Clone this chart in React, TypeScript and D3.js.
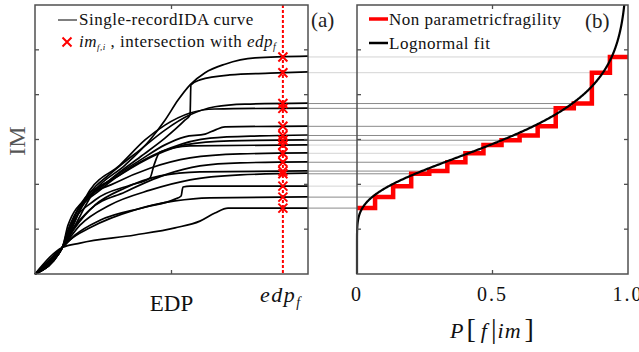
import React from 'react';
import * as d3 from 'd3';

// single-record IDA curves, [EDP, IM] (EDP scaled to the plotted range 0..1)
const idaCurves: [number, number][][] = [
  [[0, 0], [0.1, 0.59], [0.165, 0.69], [0.366, 0.87], [0.513, 1.03], [0.604, 1.18], [0.659, 1.36], [0.707, 1.47], [0.788, 1.47], [1, 1.47]],
  [[0, 0], [0.1, 0.59], [0.128, 0.76], [0.201, 1.03], [0.366, 1.43], [0.513, 1.63], [0.64, 1.7], [1, 1.72]],
  [[0, 0], [0.1, 0.59], [0.147, 0.87], [0.238, 1.2], [0.403, 1.49], [0.513, 1.67], [0.535, 1.74], [0.542, 1.94], [0.568, 1.96], [1, 1.96]],
  [[0, 0], [0.1, 0.59], [0.165, 1.09], [0.275, 1.54], [0.421, 1.87], [0.568, 2.1], [0.751, 2.21], [1, 2.25]],
  [[0, 0], [0.1, 0.59], [0.136, 0.98], [0.22, 1.54], [0.33, 1.92], [0.458, 2.19], [0.604, 2.28], [1, 2.3]],
  [[0, 0], [0.1, 0.59], [0.121, 0.8], [0.201, 1.43], [0.33, 1.83], [0.476, 2.21], [0.604, 2.41], [0.751, 2.48], [1, 2.5]],
  [[0, 0], [0.1, 0.59], [0.114, 0.87], [0.183, 1.65], [0.293, 2.03], [0.421, 2.36], [0.568, 2.59], [0.751, 2.68], [1, 2.7]],
  [[0, 0], [0.1, 0.59], [0.128, 1.03], [0.22, 1.65], [0.348, 1.98], [0.421, 2.14], [0.436, 2.43], [0.458, 2.72], [0.568, 2.86], [1, 2.88]],
  [[0, 0], [0.1, 0.59], [0.121, 1.09], [0.201, 1.76], [0.311, 2.21], [0.44, 2.65], [0.549, 2.88], [0.714, 2.97], [1, 2.99]],
  [[0, 0], [0.1, 0.59], [0.147, 1.32], [0.238, 1.87], [0.366, 2.43], [0.495, 2.81], [0.641, 3.03], [0.824, 3.08], [1, 3.1]],
  [[0, 0], [0.1, 0.59], [0.165, 1.54], [0.275, 2.1], [0.385, 2.54], [0.476, 2.88], [0.549, 3.06], [0.623, 3.12], [0.659, 3.21], [0.696, 3.28], [1, 3.3]],
  [[0, 0], [0.1, 0.59], [0.201, 1.87], [0.311, 2.43], [0.403, 2.99], [0.476, 3.32], [0.568, 3.59], [0.659, 3.68], [1, 3.7]],
  [[0, 0], [0.1, 0.59], [0.183, 1.65], [0.293, 2.32], [0.385, 2.77], [0.476, 3.21], [0.568, 3.55], [0.659, 3.73], [0.769, 3.79], [1, 3.81]],
  [[0, 0], [0.1, 0.59], [0.165, 1.43], [0.275, 2.1], [0.385, 2.61], [0.476, 3.03], [0.549, 3.43], [0.568, 3.55], [0.571, 4.22], [0.604, 4.33], [0.714, 4.44], [0.861, 4.48], [1, 4.51]],
  [[0, 0], [0.1, 0.59], [0.22, 1.87], [0.33, 2.43], [0.421, 2.99], [0.476, 3.43], [0.524, 3.88], [0.568, 4.22], [0.623, 4.49], [0.696, 4.68], [0.806, 4.82], [1, 4.86]],
];

const edpF = 0.908;
const lognormalTheta = 2.9;
const lognormalBeta = 0.33;

const imTicks = [1, 2, 3, 4, 5];
const pTicks = [0, 0.5, 1];
const pTickLabels = ['0', '0.5', '1.0'];
const lightLinks = [2, 6, 7, 13, 14];

const FONT = '"Liberation Serif", "Times New Roman", serif';
const AXIS = '#505050';

// IM of a curve at a given EDP (linear between recorded points)
function imAt(curve: [number, number][], e: number) {
  for (let k = 0; k < curve.length - 1; k++) {
    const [e0, i0] = curve[k];
    const [e1, i1] = curve[k + 1];
    if (e >= e0 && e <= e1) return i0 + ((e - e0) / (e1 - e0)) * (i1 - i0);
  }
  return curve[curve.length - 1][1];
}

function erf(x: number) {
  const s = x < 0 ? -1 : 1;
  x = Math.abs(x);
  const t = 1 / (1 + 0.3275911 * x);
  const y = 1 - (((((1.061405429 * t - 1.453152027) * t) + 1.421413741) * t - 0.284496736) * t + 0.254829592) * t * Math.exp(-x * x);
  return s * y;
}
const normCdf = (z: number) => 0.5 * (1 + erf(z / Math.SQRT2));

const App = () => {
  const W = 639, H = 352;
  const top = 5, bottom = 274;
  const edpX = d3.scaleLinear().domain([0, 1]).range([35, 308]);
  const imY = d3.scaleLinear().domain([0, 6]).range([bottom, top]);
  const pX = d3.scaleLinear().domain([0, 1]).range([357, 628]);

  const idaLine = d3.line<[number, number]>()
    .x(d => edpX(d[0]))
    .y(d => imY(d[1]))
    .curve(d3.curveMonotoneX);

  const imF = idaCurves.map(c => imAt(c, edpF));
  const sorted = [...imF].sort((a, b) => a - b);
  const n = sorted.length;

  const stepPts: [number, number][] = sorted.map((v, i) => [i / n, v]);
  stepPts.push([1, sorted[n - 1]]);
  const stepLine = d3.line<[number, number]>()
    .x(d => pX(d[0]))
    .y(d => imY(d[1]))
    .curve(d3.curveStepAfter);

  const fitPts: [number, number][] = d3.range(0.01, 6.5, 0.01).map(im => [
    normCdf(Math.log(im / lognormalTheta) / lognormalBeta), im,
  ]);
  fitPts.unshift([0, 0]);
  const fitLine = d3.line<[number, number]>()
    .x(d => pX(d[0]))
    .y(d => imY(d[1]));

  const cross = (cx: number, cy: number, r: number) =>
    `M${cx - r},${cy - r}L${cx + r},${cy + r}M${cx - r},${cy + r}L${cx + r},${cy - r}`;

  const frame = (x0: number, x1: number) => (
    <g>
      <rect x={x0} y={top} width={x1 - x0} height={bottom - top} fill="none" stroke={AXIS} strokeWidth={1.5} />
      {imTicks.map(t => (
        <g key={t}>
          <line x1={x0} x2={x0 + 4} y1={imY(t)} y2={imY(t)} stroke={AXIS} strokeWidth={1.3} />
          <line x1={x1 - 4} x2={x1} y1={imY(t)} y2={imY(t)} stroke={AXIS} strokeWidth={1.3} />
        </g>
      ))}
      <line x1={(x0 + x1) / 2} x2={(x0 + x1) / 2} y1={top} y2={top + 4} stroke={AXIS} strokeWidth={1.3} />
      <line x1={(x0 + x1) / 2} x2={(x0 + x1) / 2} y1={bottom} y2={bottom - 4} stroke={AXIS} strokeWidth={1.3} />
    </g>
  );

  return (
    <svg width={W} height={H} style={{ position: 'absolute', left: 0, top: 0, background: '#fff' }} fontFamily={FONT}>
      <defs>
        <clipPath id="clipB">
          <rect x={pX(0) - 3} y={top} width={pX(1) - pX(0) + 6} height={bottom - top} />
        </clipPath>
      </defs>
      <rect width={W} height={H} fill="#fff" />

      {/* links from the IDA intersections to the fragility steps */}
      {sorted.map((v, i) => (
        <line key={i} x1={edpX(1)} x2={pX(i / n)} y1={imY(v)} y2={imY(v)}
          stroke={lightLinks.includes(i) ? '#d4d4d4' : '#8a8a8a'} strokeWidth={1} />
      ))}

      {/* panel (a) */}
      {idaCurves.map((c, i) => (
        <path key={i} d={idaLine(c) || ''} fill="none" stroke="#000" strokeWidth={1.7} />
      ))}
      <line x1={edpX(edpF)} x2={edpX(edpF)} y1={top} y2={bottom} stroke="#f00" strokeWidth={2} strokeDasharray="3,2" />
      {imF.map((v, i) => (
        <path key={i} d={cross(edpX(edpF), imY(v), 4.5)} stroke="#f00" strokeWidth={2} fill="none" />
      ))}
      {frame(edpX(0), edpX(1))}

      {/* panel (b) */}
      <g clipPath="url(#clipB)">
        <path d={stepLine(stepPts) || ''} fill="none" stroke="#f00" strokeWidth={4.5} />
        <path d={fitLine(fitPts) || ''} fill="none" stroke="#000" strokeWidth={2.2} />
      </g>
      {frame(pX(0), pX(1))}

      {/* axis labels */}
      <text x={0} y={0} transform="translate(25,141) rotate(-90)" textAnchor="middle" fontSize={24} fill="#555">IM</text>
      <text x={edpX(0.5)} y={311} textAnchor="middle" fontSize={23} fill="#111">EDP</text>
      <text x={edpX(edpF) - 2} y={302} textAnchor="middle" fontSize={22} fontStyle="italic" fill="#111" letterSpacing={1.5}>
        edp<tspan fontSize={14} dy={5}>f</tspan>
      </text>
      {pTicks.map((t, i) => (
        <text key={t} x={pX(t)} y={301} textAnchor="middle" fontSize={20} fill="#111" letterSpacing={2}>{pTickLabels[i]}</text>
      ))}
      <text x={pX(0.5)} y={338} textAnchor="middle" fontSize={22} fill="#111" fontStyle="italic" letterSpacing={1}>
        P<tspan fontStyle="normal" fontSize={28} dx={2}>[</tspan><tspan dx={4}>f</tspan><tspan fontStyle="normal" fontSize={28} dx={3}>|</tspan><tspan>im</tspan><tspan fontStyle="normal" fontSize={28} dx={3}>]</tspan>
      </text>

      {/* panel letters */}
      <text x={311} y={27} fontSize={21} fill="#222">(a)</text>
      <text x={585} y={28} fontSize={21} fill="#222">(b)</text>

      {/* legend (a) */}
      <line x1={58} x2={77} y1={20} y2={20} stroke="#000" strokeWidth={1} />
      <text x={79} y={25} fontSize={17} fill="#111" letterSpacing={0.5}>Single-recordIDA curve</text>
      <path d={cross(67, 42, 4.5)} stroke="#f00" strokeWidth={2} fill="none" />
      <text x={79} y={47} fontSize={17} fill="#111" letterSpacing={0.5}>
        <tspan fontStyle="italic">im</tspan><tspan fontStyle="italic" fontSize={9} dy={3}>f,i</tspan>
        <tspan dy={-3}> , intersection with </tspan><tspan fontStyle="italic">edp</tspan><tspan fontStyle="italic" fontSize={10} dy={3}>f</tspan>
      </text>

      {/* legend (b) */}
      <line x1={369} x2={388} y1={19} y2={19} stroke="#f00" strokeWidth={3.5} />
      <text x={389} y={25} fontSize={17} fill="#111" letterSpacing={0.5}>Non parametricfragility</text>
      <line x1={369} x2={388} y1={43} y2={43} stroke="#000" strokeWidth={2.5} />
      <text x={389} y={49} fontSize={17} fill="#111" letterSpacing={0.5}>Lognormal fit</text>
    </svg>
  );
};

export default App;
